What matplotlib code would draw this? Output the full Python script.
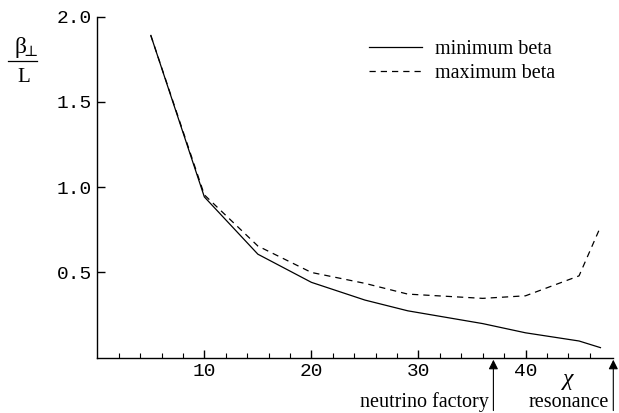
import matplotlib
matplotlib.use("Agg")
import matplotlib.pyplot as plt
from matplotlib.lines import Line2D

# data
chi = [5, 10, 15, 20, 25, 29, 36, 40, 45, 47]
beta_min = [1.89, 0.943, 0.607, 0.442, 0.338, 0.275, 0.200, 0.146, 0.098, 0.059]
beta_max = [1.89, 0.955, 0.655, 0.500, 0.436, 0.373, 0.348, 0.363, 0.480, 0.767]
xticks = [10, 20, 30, 40]
yticks = [0.5, 1.0, 1.5, 2.0]
marks = [(37.0, "neutrino factory"), (48.2, "resonance")]

serif = ["Liberation Serif", "DejaVu Serif"]
mono = "Liberation Mono"

W, H = 619, 413
fig = plt.figure(figsize=(W / 100, H / 100), dpi=100)
ax = fig.add_axes([97.3 / W, 1 - 357.7 / H, (613.3 - 97.3) / W, (357.7 - 16.7) / H])

ax.plot(chi, beta_min, color="black", lw=0.9, label="minimum beta")
ax.plot(chi, beta_max, color="black", lw=0.9, linestyle=(0, (5, 4)), label="maximum beta")

ax.set_xlim(0, 48.2)
ax.set_ylim(0, 2.0)
for s in ["top", "right"]:
    ax.spines[s].set_visible(False)
for s in ["left", "bottom"]:
    ax.spines[s].set_linewidth(1.0)

ax.set_xticks(xticks)
ax.set_xticks([x for x in range(2, 48, 2) if x % 10], minor=True)
ax.set_yticks(yticks)
ax.set_xticklabels([str(t) for t in xticks], fontfamily=mono, fontsize=14)
ax.set_yticklabels([f"{t:.1f}" for t in yticks], fontfamily=mono, fontsize=14)
ax.tick_params(axis="x", which="major", direction="in", length=6, width=1, pad=4)
ax.tick_params(axis="x", which="minor", direction="in", length=3.5, width=0.8)
ax.tick_params(axis="y", which="major", direction="in", length=6, width=1, pad=4)

# chi axis label
ax.text(44, -0.125, "χ", fontfamily=serif, fontsize=17, ha="center", va="center",
        style="italic", clip_on=False)

# arrows below the axis
for xm, lab in marks:
    ax.annotate("", xy=(xm, -0.012), xytext=(xm, -0.31),
                arrowprops=dict(arrowstyle="-|>", color="black", lw=0.8,
                                mutation_scale=14, shrinkA=0, shrinkB=0),
                annotation_clip=False)
    ax.text(xm - 0.45, -0.262, lab, fontfamily=serif, fontsize=14.5,
            ha="right", va="center", clip_on=False)

# y label as a fraction
fig.text(20 / W, 1 - 47 / H, "β", fontfamily=serif, fontsize=17, ha="center", va="center")
fig.text(31 / W, 1 - 52 / H, "⊥", fontfamily=serif, fontsize=11, ha="center", va="center")
fig.add_artist(Line2D([8 / W, 37 / W], [1 - 61 / H, 1 - 61 / H], color="black", lw=0.9))
fig.text(24 / W, 1 - 77 / H, "L", fontfamily=serif, fontsize=15, ha="center", va="center")

leg = ax.legend(loc="upper left", bbox_to_anchor=(369 / W, 1 - 40 / H),
                bbox_transform=fig.transFigure, frameon=False, borderpad=0,
                borderaxespad=0, handlelength=2.65, handletextpad=0.65,
                labelspacing=0.25, prop={"family": serif, "size": 14.5})

fig.savefig("out.png", dpi=100)
